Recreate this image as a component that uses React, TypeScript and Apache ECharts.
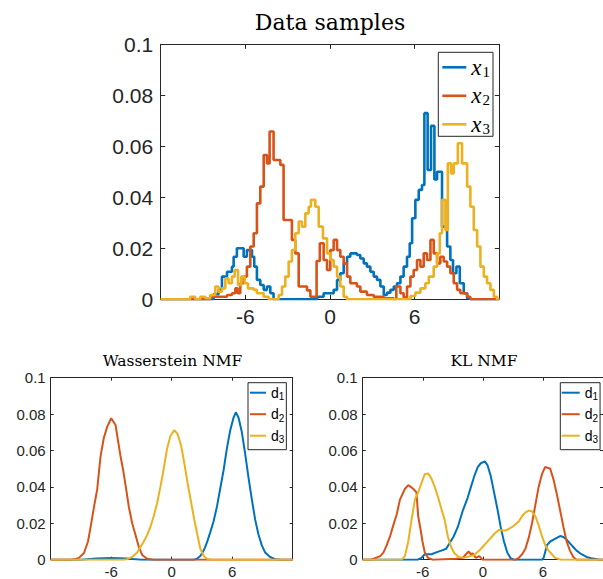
import React, { useEffect, useRef } from "react";
import * as echarts from "echarts";

const C1 = "#0072BD";
const C2 = "#D95319";
const C3 = "#EDB120";
const AX = "#262626";

const xTicks = { min: -12, max: 12, interval: 6 };
const yTicks = { min: 0, max: 0.1, interval: 0.02 };

// Top panel: histogram bins as [left edge, height]
const sampleX1 = [
  [-12, 0], [-8.25, 0.002], [-7.9, 0.0037], [-7.66, 0.0089], [-7.3, 0.0108], [-6.95, 0.0128],
  [-6.83, 0.0167], [-6.6, 0.02], [-6.12, 0.0167], [-5.89, 0.0193], [-5.53, 0.0167], [-5.37, 0.0128],
  [-5.18, 0.0076], [-4.94, 0.0056], [-4.7, 0.0037], [-4.47, 0.005], [-4.23, 0.0024], [-4.0, 0],
  [-0.92, 0.001], [-0.45, 0.0024], [0.26, 0.0037], [0.5, 0.0076], [0.73, 0.0102], [0.97, 0.0141],
  [1.21, 0.0167], [1.44, 0.018], [1.91, 0.0174], [2.15, 0.016], [2.39, 0.0141], [2.62, 0.0128],
  [2.86, 0.0108], [3.1, 0.0089], [3.33, 0.0076], [3.57, 0.005], [3.81, 0.0017], [4.04, 0.0026],
  [4.28, 0.0037], [4.52, 0.005], [4.75, 0.0063], [4.99, 0.0089], [5.22, 0.0128], [5.46, 0.0167],
  [5.65, 0.022], [5.82, 0.0318], [6.05, 0.039], [6.29, 0.0429], [6.52, 0.0448], [6.69, 0.073],
  [6.92, 0.0507], [7.16, 0.068], [7.4, 0.047], [7.59, 0.05], [7.94, 0.0285], [8.3, 0.0207],
  [8.53, 0.0154], [8.72, 0.0102], [8.96, 0.0128], [9.2, 0.0063], [9.48, 0.0024], [9.72, 0.0004],
  [9.95, 0], [12, 0],
];
const sampleX2 = [
  [-12, 0], [-8.49, 0.001], [-7.3, 0.0017], [-6.95, 0.0024], [-6.71, 0.0043], [-6.55, 0.0024],
  [-6.36, 0.0063], [-6.12, 0.0089], [-5.89, 0.0128], [-5.65, 0.0207], [-5.41, 0.0259], [-5.18, 0.0376],
  [-4.94, 0.0442], [-4.7, 0.0566], [-4.47, 0.0533], [-4.28, 0.0658], [-4.0, 0.0546], [-3.52, 0.0527],
  [-3.29, 0.0311], [-2.7, 0.0233], [-2.46, 0.018], [-2.22, 0.005], [-1.63, 0.0035], [-1.39, 0.001],
  [-0.95, 0.015], [-0.72, 0.022], [-0.45, 0.0154], [-0.21, 0.0115], [0.02, 0.0193], [0.26, 0.0233],
  [0.5, 0.0193], [0.73, 0.0167], [0.97, 0.0141], [1.21, 0.0089], [1.44, 0.0063], [1.91, 0.005],
  [2.15, 0.003], [2.62, 0.0017], [3.1, 0.001], [3.81, 0.0004], [4.52, 0], [4.7, 0.005],
  [4.99, 0.0024], [5.22, 0.0008], [5.46, 0.005], [5.7, 0.0089], [5.93, 0.0115], [6.17, 0.0154],
  [6.41, 0.0128], [6.64, 0.018], [6.88, 0.0154], [7.12, 0.0233], [7.35, 0.018], [7.59, 0.0141],
  [7.82, 0.0167], [8.06, 0.0148], [8.3, 0.0128], [8.53, 0.0102], [8.77, 0.0063], [9.01, 0.0037],
  [9.24, 0.0024], [9.72, 0.001], [9.95, 0], [12, 0],
];
const sampleX3 = [
  [-12, 0], [-9.91, 0.001], [-9.55, 0], [-9.2, 0.001], [-8.84, 0.0004], [-8.49, 0.0017],
  [-8.13, 0.005], [-7.9, 0.003], [-7.66, 0.0043], [-7.42, 0.0082], [-7.19, 0.0063], [-6.95, 0.0089],
  [-6.76, 0.0115], [-6.52, 0.0056], [-6.29, 0.0089], [-6.05, 0.0063], [-5.82, 0.0043], [-5.41, 0.0037],
  [-5.18, 0.0024], [-4.7, 0.001], [-4.35, 0], [-3.64, 0.0017], [-3.4, 0.005], [-3.17, 0.0089],
  [-2.93, 0.0148], [-2.7, 0.0193], [-2.46, 0.0259], [-2.22, 0.0305], [-1.99, 0.0285], [-1.75, 0.0337],
  [-1.51, 0.0363], [-1.35, 0.039], [-1.04, 0.0363], [-0.8, 0.0285], [-0.5, 0.0239], [-0.21, 0.018],
  [0.02, 0.0154], [0.26, 0.0128], [0.5, 0.0089], [0.73, 0.005], [0.97, 0.001], [1.21, 0],
  [5.7, 0.0013], [6.05, 0.0026], [6.41, 0.0043], [6.76, 0.0063], [7.0, 0.0089], [7.35, 0.0128],
  [7.59, 0.018], [7.78, 0.0259], [7.94, 0.039], [8.18, 0.0272], [8.35, 0.0533], [8.58, 0.0494],
  [8.77, 0.0533], [9.06, 0.0612], [9.36, 0.0533], [9.72, 0.0442], [9.95, 0.0363], [10.19, 0.0272],
  [10.43, 0.0207], [10.66, 0.0128], [10.9, 0.0089], [11.13, 0.0063], [11.37, 0.0037], [11.61, 0.001],
  [11.84, 0], [12, 0],
];

// Wasserstein NMF dictionaries [x, density]
const wassD1 = [
  [-12, 0], [-9, 0], [-7.5, 0.0006], [-6, 0.001], [-4.5, 0.0006], [-3, 0], [2.2, 0], [2.5, 0.0005],
  [2.84, 0.002], [3.17, 0.005], [3.5, 0.0095], [3.82, 0.015], [4.15, 0.021], [4.48, 0.029],
  [4.81, 0.039], [5.14, 0.049], [5.47, 0.061], [5.8, 0.071], [6.13, 0.078], [6.36, 0.081],
  [6.63, 0.078], [6.96, 0.07], [7.29, 0.058], [7.62, 0.045], [7.95, 0.033], [8.28, 0.022],
  [8.6, 0.014], [8.93, 0.008], [9.26, 0.004], [9.76, 0.0015], [10.25, 0.0003], [10.8, 0], [12, 0],
];
const wassD2 = [
  [-12, 0], [-10, 0], [-9.7, 0.0002], [-9.2, 0.001], [-8.7, 0.0037], [-8.3, 0.01], [-7.98, 0.02],
  [-7.72, 0.0286], [-7.39, 0.0386], [-7.06, 0.0566], [-6.73, 0.067], [-6.4, 0.073], [-6.0, 0.0777],
  [-5.57, 0.074], [-5.34, 0.066], [-5.08, 0.057], [-4.81, 0.049], [-4.55, 0.04], [-4.25, 0.029],
  [-3.92, 0.02], [-3.59, 0.0136], [-3.26, 0.007], [-2.93, 0.0026], [-2.44, 0.0005], [-1.8, 0], [12, 0],
];
const wassD3 = [
  [-12, 0], [-4.8, 0], [-4.42, 0.0003], [-3.92, 0.0015], [-3.43, 0.004], [-3.1, 0.007], [-2.77, 0.01],
  [-2.44, 0.0135], [-2.11, 0.018], [-1.78, 0.024], [-1.45, 0.031], [-1.12, 0.04], [-0.79, 0.05],
  [-0.46, 0.061], [-0.13, 0.068], [0.26, 0.0712], [0.59, 0.069], [0.92, 0.063], [1.25, 0.053],
  [1.58, 0.042], [1.91, 0.032], [2.24, 0.022], [2.57, 0.013], [2.84, 0.006], [3.17, 0.002],
  [3.5, 0.0005], [3.9, 0], [12, 0],
];

// KL NMF dictionaries [x, density]
const klD1 = [
  [-12, 0], [-6.5, 0], [-6.13, 0.001], [-5.8, 0.003], [-5.14, 0.003], [-4.65, 0.004], [-4.15, 0.005],
  [-3.66, 0.006], [-3.33, 0.009], [-2.93, 0.0126], [-2.5, 0.018], [-2.0, 0.027], [-1.52, 0.034],
  [-1.19, 0.04], [-0.85, 0.046], [-0.5, 0.051], [-0.2, 0.053], [0.2, 0.054], [0.46, 0.052],
  [0.79, 0.046], [1.12, 0.037], [1.45, 0.028], [1.78, 0.018], [2.11, 0.01], [2.44, 0.004],
  [2.77, 0.0008], [3.1, 0], [5.9, 0], [6.07, 0.001], [6.4, 0.008], [6.73, 0.01], [7.06, 0.011],
  [7.39, 0.012], [7.72, 0.013], [8.05, 0.0125], [8.37, 0.011], [8.7, 0.009], [9.03, 0.007],
  [9.36, 0.005], [9.85, 0.003], [10.35, 0.0015], [10.85, 0.0008], [11.67, 0], [12, 0],
];
const klD2 = [
  [-12, 0], [-11.2, 0], [-10.9, 0.0005], [-10.25, 0.002], [-9.92, 0.004], [-9.6, 0.008], [-9.26, 0.013],
  [-8.94, 0.019], [-8.6, 0.025], [-8.28, 0.033], [-7.78, 0.039], [-7.45, 0.041], [-6.96, 0.039],
  [-6.63, 0.037], [-6.46, 0.024], [-6.23, 0.017], [-6.03, 0.01], [-5.8, 0.004], [-5.47, 0.001],
  [-5.0, 0], [-2.67, 0.0005], [-2.0, 0.001], [-1.68, 0.003], [-1.42, 0.0045], [-1.19, 0.003],
  [-1.02, 0.0035], [-0.69, 0.001], [-0.36, 0.002], [-0.03, 0], [3.26, 0], [3.59, 0.001], [3.92, 0.003],
  [4.25, 0.006], [4.58, 0.012], [4.91, 0.02], [5.24, 0.03], [5.57, 0.04], [5.9, 0.047], [6.23, 0.051],
  [6.73, 0.05], [7.06, 0.044], [7.39, 0.036], [7.72, 0.027], [8.05, 0.018], [8.37, 0.01], [8.7, 0.005],
  [9.03, 0.0015], [9.36, 0], [12, 0],
];
const klD3 = [
  [-12, 0], [-8.1, 0], [-7.78, 0.002], [-7.45, 0.01], [-7.12, 0.022], [-6.79, 0.033], [-6.46, 0.037],
  [-6.13, 0.042], [-5.8, 0.047], [-5.47, 0.0474], [-5.14, 0.0447], [-4.81, 0.04], [-4.48, 0.0346],
  [-4.15, 0.028], [-3.82, 0.022], [-3.49, 0.0126], [-3.17, 0.007], [-2.84, 0.0035], [-2.4, 0.0015],
  [-1.9, 0.001], [-1.4, 0.0018], [-0.9, 0.0025], [-0.36, 0.005], [-0.03, 0.007], [0.3, 0.009],
  [0.63, 0.011], [0.96, 0.013], [1.29, 0.015], [1.62, 0.0165], [1.95, 0.016], [2.27, 0.016],
  [2.6, 0.017], [2.93, 0.018], [3.26, 0.0195], [3.59, 0.021], [3.92, 0.024], [4.25, 0.026],
  [4.58, 0.027], [4.91, 0.0265], [5.24, 0.024], [5.57, 0.019], [5.9, 0.013], [6.23, 0.008],
  [6.56, 0.005], [6.89, 0.003], [7.22, 0.001], [7.8, 0], [12, 0],
];

const topNames = ["x1", "x2", "x3"];
const dictNames = ["d1", "d2", "d3"];
const titles = ["Data samples", "Wasserstein NMF", "KL NMF"];

function axesFor(gi: number, fs: number, tickLen: number, xMargin: number, yMargin: number) {
  const axisLine = { show: true, onZero: false, lineStyle: { color: AX, width: 1 } };
  const axisTick = { show: true, inside: true, length: tickLen, lineStyle: { color: AX, width: 1 } };
  const label = { color: AX, fontSize: fs, fontFamily: "Liberation Sans" };
  const xs = [
    {
      type: "value", gridIndex: gi, ...xTicks, position: "bottom", axisLine, axisTick,
      axisLabel: { ...label, margin: xMargin, showMinLabel: false, showMaxLabel: false },
      splitLine: { show: false },
    },
    {
      type: "value", gridIndex: gi, ...xTicks, position: "top", axisLine, axisTick,
      axisLabel: { show: false }, splitLine: { show: false },
    },
  ];
  const ys = [
    {
      type: "value", gridIndex: gi, ...yTicks, position: "left", axisLine, axisTick,
      axisLabel: { ...label, margin: yMargin }, splitLine: { show: false },
    },
    {
      type: "value", gridIndex: gi, ...yTicks, position: "right", axisLine, axisTick,
      axisLabel: { show: false }, splitLine: { show: false },
    },
  ];
  return { xs, ys };
}

export default function App() {
  const ref = useRef<HTMLDivElement>(null);
  useEffect(() => {
    if (!ref.current) return;
    const chart = echarts.init(ref.current, undefined, { renderer: "svg" });
    const a0 = axesFor(0, 21, 4.5, 7, 7.5);
    const a1 = axesFor(1, 15, 3, 4, 5);
    const a2 = axesFor(2, 15, 3, 4, 5);
    const colors = [C1, C2, C3];

    const stepSeries = [sampleX1, sampleX2, sampleX3].map((d, i) => ({
      type: "line", name: topNames[i], xAxisIndex: 0, yAxisIndex: 0, data: d, step: "end",
      symbol: "none", color: colors[i], lineStyle: { color: colors[i], width: 2.6 },
    }));
    const wSeries = [wassD1, wassD2, wassD3].map((d, i) => ({
      type: "line", name: dictNames[i], xAxisIndex: 2, yAxisIndex: 2, data: d,
      symbol: "none", color: colors[i], lineStyle: { color: colors[i], width: 2 },
    }));
    const kSeries = [klD1, klD2, klD3].map((d, i) => ({
      type: "line", name: dictNames[i], xAxisIndex: 4, yAxisIndex: 4, data: d,
      symbol: "none", color: colors[i], lineStyle: { color: colors[i], width: 2 },
    }));

    const legendBase = {
      orient: "vertical", backgroundColor: "#fff", borderColor: AX, borderWidth: 1,
      borderRadius: 0, icon: "rect", selectedMode: false,
    };

    chart.setOption({
      animation: false,
      grid: [
        { left: 160.7, top: 44.3, width: 338.6, height: 255 },
        { left: 50.7, top: 377.7, width: 242, height: 182 },
        { left: 362.7, top: 377.7, width: 242, height: 182 },
      ],
      xAxis: [...a0.xs, ...a1.xs, ...a2.xs],
      yAxis: [...a0.ys, ...a1.ys, ...a2.ys],
      legend: [
        {
          ...legendBase, data: topNames, left: 438.3, top: 52.3,
          padding: [2, 3, 0, 4], itemWidth: 24, itemHeight: 2.6, itemGap: 3.5,
          formatter: (n: string) => `{a|x}{b|${n.slice(1)}}`,
          textStyle: {
            rich: {
              a: { fontFamily: "Liberation Serif", fontStyle: "italic", fontSize: 23, lineHeight: 24, color: "#000" },
              b: { fontFamily: "Liberation Serif", fontSize: 15, lineHeight: 14, padding: [10, 0, 0, 1], verticalAlign: "bottom", color: "#000" },
            },
          },
        },
        {
          ...legendBase, data: dictNames, left: 248, top: 382.7,
          padding: [2, 2, 5, 2], itemWidth: 16, itemHeight: 2, itemGap: 4.5,
          formatter: (n: string) => `{a|d}{b|${n.slice(1)}}`,
          textStyle: {
            rich: {
              a: { fontFamily: "Liberation Sans", fontSize: 14, lineHeight: 18, color: "#000" },
              b: { fontFamily: "Liberation Sans", fontSize: 10, lineHeight: 11, padding: [7, 0, 0, 0], verticalAlign: "bottom", color: "#000" },
            },
          },
        },
        {
          ...legendBase, data: dictNames, left: 560.3, top: 382.7,
          padding: [2, 2, 5, 1.4], itemWidth: 18, itemHeight: 2, itemGap: 4.5,
          formatter: (n: string) => `{a|d}{b|${n.slice(1)}}`,
          textStyle: {
            rich: {
              a: { fontFamily: "Liberation Sans", fontSize: 14, lineHeight: 18, color: "#000" },
              b: { fontFamily: "Liberation Sans", fontSize: 10, lineHeight: 11, padding: [7, 0, 0, 0], verticalAlign: "bottom", color: "#000" },
            },
          },
        },
      ],
      graphic: [
        {
          type: "text", x: 330, y: 22,
          style: { text: titles[0], fontFamily: "DejaVu Serif", fontSize: 22, fill: "#000", align: "center", verticalAlign: "middle", textAlign: "center", textVerticalAlign: "middle" },
        },
        {
          type: "text", x: 172.5, y: 360.5,
          style: { text: titles[1], fontFamily: "DejaVu Serif", fontSize: 15.5, fill: "#000", align: "center", verticalAlign: "middle", textAlign: "center", textVerticalAlign: "middle" },
        },
        {
          type: "text", x: 484, y: 360.5,
          style: { text: titles[2], fontFamily: "DejaVu Serif", fontSize: 15.5, fill: "#000", align: "center", verticalAlign: "middle", textAlign: "center", textVerticalAlign: "middle" },
        },
      ],
      series: [...stepSeries, ...wSeries, ...kSeries],
    });
    return () => chart.dispose();
  }, []);
  return (
    <div
      ref={ref}
      style={{ position: "absolute", left: 0, top: 0, width: 603, height: 579, background: "#fff" }}
    />
  );
}
